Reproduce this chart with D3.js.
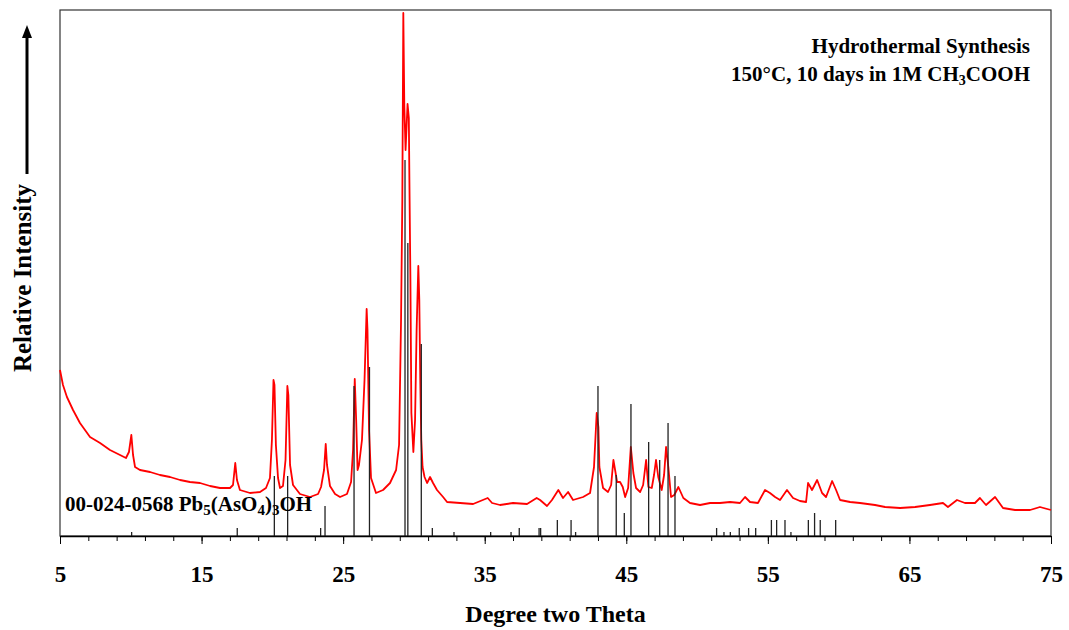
<!DOCTYPE html>
<html>
<head>
<meta charset="utf-8">
<script src="https://cdn.jsdelivr.net/npm/d3@7"></script>
<style>
  body { margin: 0; background: #fff; }
  text { font-family: "Liberation Serif", "Times New Roman", serif; font-weight: bold; }
</style>
</head>
<body>
<svg class="viz" width="1069" height="630"></svg>
<script>
// measured pattern, 2-theta in degrees and intensity in arbitrary units
var twoTheta = [5.00, 5.21, 5.49, 5.92, 6.41, 7.12, 7.83, 8.53, 9.24, 9.66, 9.87, 10.04, 10.16, 10.30, 10.65,
  11.36, 12.06, 12.77, 13.48, 14.18, 14.89, 15.60, 16.30, 17.01, 17.22, 17.38, 17.50, 17.71, 18.42, 19.13,
  19.55, 19.83, 19.97, 20.08, 20.15, 20.25, 20.40, 20.54, 20.75, 20.93, 21.06, 21.13, 21.25, 21.46, 21.95,
  22.66, 23.23, 23.44, 23.65, 23.77, 23.86, 24.07, 24.43, 24.78, 25.27, 25.56, 25.70, 25.82, 25.92, 26.02,
  26.12, 26.33, 26.51, 26.66, 26.72, 26.83, 26.97, 27.32, 27.82, 28.31, 28.74, 28.95, 29.09, 29.18, 29.25,
  29.32, 29.41, 29.55, 29.64, 29.68, 29.75, 29.82, 29.96, 30.08, 30.19, 30.31, 30.38, 30.45, 30.52, 30.61,
  30.75, 30.93, 31.14, 31.35, 31.63, 32.06, 32.34, 33.26, 34.18, 35.21, 35.52, 36.08, 37.00, 37.99, 38.67,
  38.91, 39.40, 39.75, 40.20, 40.53, 40.89, 41.24, 41.95, 42.44, 42.72, 42.91, 43.03, 43.10, 43.36, 43.71,
  43.93, 44.09, 44.21, 44.35, 44.56, 44.75, 44.92, 45.13, 45.32, 45.50, 45.69, 45.98, 46.19, 46.40, 46.56,
  46.80, 46.96, 47.10, 47.26, 47.50, 47.67, 47.81, 47.97, 48.16, 48.39, 48.68, 49.03, 49.50, 50.21, 50.92,
  51.62, 52.33, 53.03, 53.39, 53.74, 54.30, 54.80, 55.15, 55.51, 55.86, 56.35, 56.78, 57.27, 57.70, 57.84,
  58.12, 58.48, 58.83, 59.11, 59.54, 59.82, 60.10, 60.81, 61.51, 62.57, 63.28, 64.34, 65.40, 66.45, 67.37,
  67.72, 68.36, 68.92, 69.63, 69.98, 70.41, 71.05, 71.61, 72.46, 73.52, 74.22, 75.00];
var intensity = [166, 151, 139, 126, 113, 99, 93, 86, 81, 78, 84, 101, 81, 69, 66,
  64, 61, 59, 56, 54, 53, 50, 48, 48, 51, 73, 56, 46, 43, 44,
  48, 58, 96, 156, 151, 91, 58, 48, 50, 76, 150, 141, 71, 51, 42,
  39, 42, 49, 66, 92, 71, 50, 42, 39, 42, 54, 86, 157, 116, 66,
  71, 96, 156, 227, 206, 106, 58, 43, 46, 53, 66, 91, 216, 336, 523,
  431, 386, 432, 418, 356, 259, 123, 84, 116, 206, 270, 236, 153, 96, 69,
  59, 53, 59, 53, 46, 39, 34, 33, 32, 38, 33, 31, 33, 32, 38,
  36, 30, 36, 46, 38, 44, 36, 39, 43, 69, 123, 109, 69, 48, 44,
  51, 76, 66, 54, 54, 49, 39, 48, 89, 63, 48, 44, 51, 76, 49,
  48, 61, 76, 59, 46, 61, 89, 69, 39, 41, 49, 38, 33, 31, 33,
  33, 34, 33, 39, 34, 33, 46, 43, 39, 36, 46, 38, 35, 34, 53,
  46, 56, 43, 39, 55, 46, 36, 34, 33, 31, 29, 28, 29, 31, 33,
  29, 36, 33, 33, 38, 31, 39, 28, 26, 26, 29, 26];

// reference card 00-024-0568
var cardPos = [10.06, 17.52, 20.14, 21.08, 23.41, 23.72, 25.77, 26.86, 29.37, 29.57, 30.52, 31.30, 32.83,
  35.42, 36.86, 37.44, 38.84, 38.95, 40.13, 41.10, 41.42, 43.00, 44.29, 44.86, 45.33, 46.58, 47.36, 47.95,
  48.44, 51.38, 51.90, 52.35, 52.98, 53.64, 54.14, 55.25, 55.62, 56.21, 56.63, 57.86, 58.30, 58.70, 59.79];
var cardInt = [4, 8, 60, 60, 8, 30, 150, 169, 376, 293, 192, 8, 4,
  4, 4, 8, 8, 8, 16, 16, 4, 150, 61, 23, 132, 94, 76, 113,
  60, 8, 4, 4, 8, 8, 8, 16, 16, 16, 4, 16, 23, 16, 16];

var xMajor = [5, 15, 25, 35, 45, 55, 65, 75];
var xMinor = d3.range(5, 76, 2);

var svg = d3.select(".viz"),
    margin = {top: 10, right: 18, bottom: 94, left: 60},
    width = 1069 - margin.left - margin.right,
    height = 630 - margin.top - margin.bottom;

var xScale = d3.scaleLinear().domain([5, 75]).range([margin.left, margin.left + width]);
var yScale = d3.scaleLinear().domain([0, 526]).range([margin.top + height, margin.top]);

var pattern = twoTheta.map(function (d, i) { return [d, intensity[i]]; });

// frame
svg.append("rect")
  .attr("x", margin.left)
  .attr("y", margin.top)
  .attr("width", width)
  .attr("height", height)
  .attr("fill", "none")
  .attr("stroke", "#333")
  .attr("stroke-width", 1.2);

// measured curve
var line = d3.line()
  .x(function (d) { return xScale(d[0]); })
  .y(function (d) { return yScale(d[1]); });

svg.append("path")
  .datum(pattern)
  .attr("d", line)
  .attr("fill", "none")
  .attr("stroke", "#ff0000")
  .attr("stroke-width", 1.8)
  .attr("stroke-linejoin", "round");

// card sticks on top
svg.selectAll(".stick")
  .data(cardPos)
  .enter()
  .append("line")
  .attr("class", "stick")
  .attr("x1", function (d) { return xScale(d); })
  .attr("x2", function (d) { return xScale(d); })
  .attr("y1", yScale(0))
  .attr("y2", function (d, i) { return yScale(cardInt[i]); })
  .style("stroke", "#222")
  .style("stroke-width", "1.3px");

// x axis, minor then major
svg.append("g")
  .attr("transform", "translate(0," + yScale(0) + ")")
  .call(d3.axisBottom(xScale).tickValues(xMinor).tickSize(5).tickSizeOuter(0).tickFormat(""))
  .call(function (g) { g.select(".domain").attr("stroke-width", 1.5); });

var xAxis = svg.append("g")
  .attr("transform", "translate(0," + yScale(0) + ")")
  .call(d3.axisBottom(xScale).tickValues(xMajor).tickSize(8).tickSizeOuter(0).tickPadding(22).tickFormat(d3.format("d")));
xAxis.select(".domain").remove();
xAxis.selectAll("text")
  .attr("font-family", "Liberation Serif, serif")
  .attr("font-weight", "bold")
  .attr("font-size", "23px")
  .attr("fill", "#000");

svg.append("text")
  .attr("x", margin.left + width / 2)
  .attr("y", 622)
  .attr("text-anchor", "middle")
  .attr("font-size", "24px")
  .text("Degree two Theta");

// y label with arrow
svg.append("text")
  .attr("transform", "translate(31,278) rotate(-90)")
  .attr("text-anchor", "middle")
  .attr("font-size", "25px")
  .text("Relative Intensity");

svg.append("line")
  .attr("x1", 27).attr("x2", 27)
  .attr("y1", 174).attr("y2", 36)
  .style("stroke", "#000")
  .style("stroke-width", "3px");
svg.append("path")
  .attr("d", "M27,25 L22,38 L32,38 Z")
  .attr("fill", "#000");

// annotations
var note = svg.append("g").attr("font-size", "21px").attr("text-anchor", "end");
note.append("text").attr("x", 1030).attr("y", 53).text("Hydrothermal Synthesis");
var n2 = note.append("text").attr("x", 1030).attr("y", 81);
n2.append("tspan").text("150°C, 10 days in 1M CH");
n2.append("tspan").attr("font-size", "14px").attr("dy", 4).text("3");
n2.append("tspan").attr("dy", -4).text("COOH");

var card = svg.append("text").attr("x", 65).attr("y", 511).attr("font-size", "21px");
card.append("tspan").text("00-024-0568 Pb");
card.append("tspan").attr("font-size", "15px").attr("dy", 4).text("5");
card.append("tspan").attr("dy", -4).text("(AsO");
card.append("tspan").attr("font-size", "15px").attr("dy", 4).text("4");
card.append("tspan").attr("dy", -4).text(")");
card.append("tspan").attr("font-size", "15px").attr("dy", 4).text("3");
card.append("tspan").attr("dy", -4).text("OH");
</script>
</body>
</html>
